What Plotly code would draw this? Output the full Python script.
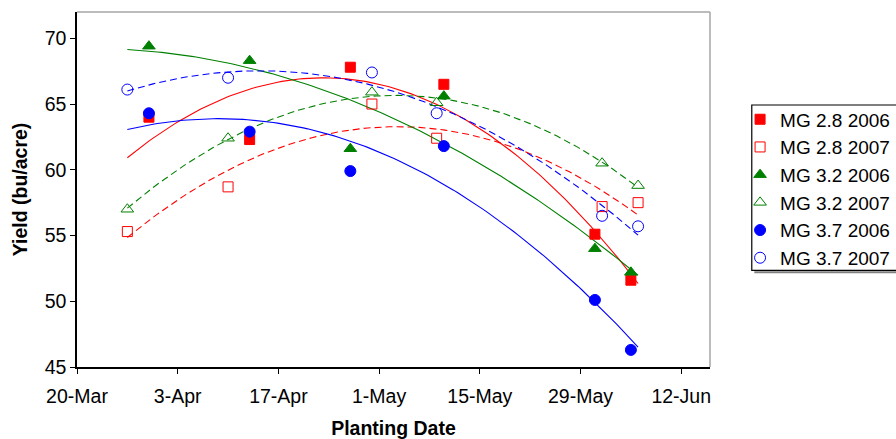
import numpy as np
import pandas as pd
import plotly.graph_objects as go

# ---- data (year is a dummy common year for plotting) ----
dates_2006 = ["2007-03-30", "2007-04-13", "2007-04-27", "2007-05-10", "2007-05-31", "2007-06-05"]
dates_2007 = ["2007-03-27", "2007-04-10", "2007-04-30", "2007-05-09", "2007-06-01", "2007-06-06"]

mg28_2006 = [64.0, 62.3, 67.8, 66.5, 55.1, 51.6]
mg28_2007 = [55.3, 58.7, 65.0, 62.4, 57.2, 57.5]
mg32_2006 = [69.4, 68.3, 61.6, 65.6, 54.0, 52.2]
mg32_2007 = [57.0, 62.4, 65.9, 65.1, 60.5, 58.8]
mg37_2006 = [64.3, 62.9, 59.9, 61.8, 50.1, 46.3]
mg37_2007 = [66.1, 67.0, 67.4, 64.3, 56.5, 55.7]

tick_vals = ["2007-03-20", "2007-04-03", "2007-04-17", "2007-05-01", "2007-05-15", "2007-05-29", "2007-06-12"]
tick_text = ["20-Mar", "3-Apr", "17-Apr", "1-May", "15-May", "29-May", "12-Jun"]

RED, GREEN, BLUE = "#FF0000", "#008000", "#0000FF"

series = [
    ("MG 2.8 2006", dates_2006, mg28_2006, "square", RED, "solid", 10),
    ("MG 2.8 2007", dates_2007, mg28_2007, "square-open", RED, "dash", 10),
    ("MG 3.2 2006", dates_2006, mg32_2006, "triangle-up", GREEN, "solid", 11),
    ("MG 3.2 2007", dates_2007, mg32_2007, "triangle-up-open", GREEN, "dash", 11),
    ("MG 3.7 2006", dates_2006, mg37_2006, "circle", BLUE, "solid", 11),
    ("MG 3.7 2007", dates_2007, mg37_2007, "circle-open", BLUE, "dash", 11),
]

all_dates = pd.to_datetime(dates_2006 + dates_2007)
t0 = pd.Timestamp("2007-03-20")
grid_days = np.linspace((all_dates.min() - t0).days, (all_dates.max() - t0).days, 120)
grid_dates = [t0 + pd.Timedelta(days=float(d)) for d in grid_days]

fig = go.Figure()

# trendlines (2nd order polynomial fits)
for name, dts, vals, sym, col, dash, sz in series:
    d = np.array([(pd.Timestamp(x) - t0).days for x in dts], dtype=float)
    coef = np.polyfit(d, np.array(vals), 2)
    fig.add_trace(go.Scatter(
        x=grid_dates, y=np.polyval(coef, grid_days), mode="lines",
        line=dict(color=col, width=1.1, dash="7px,4px" if dash == "dash" else "solid"),
        showlegend=False, hoverinfo="skip"))

for i, (name, dts, vals, sym, col, dash, sz) in enumerate(series):
    fig.add_trace(go.Scatter(
        x=dts, y=vals, mode="markers", name=name, legendgroup=f"g{i}",
        marker=dict(symbol=sym, color=col, size=sz, line=dict(color=col, width=1))))

fig.update_layout(
    width=896, height=439,
    margin=dict(l=77, r=186, t=12, b=72, autoexpand=False),
    plot_bgcolor="white", paper_bgcolor="white",
    font=dict(family="Liberation Sans, Arial, sans-serif", size=19.5, color="black"),
    showlegend=True,
    legend=dict(x=1.0475, xanchor="left", y=0.751, yanchor="top",
                borderwidth=0, bgcolor="rgba(0,0,0,0)",
                font=dict(size=19), traceorder="grouped", tracegroupgap=0),
    xaxis=dict(range=["2007-03-20", "2007-06-16"], tickvals=tick_vals, ticktext=tick_text,
               showgrid=False, zeroline=False, showline=True, linecolor="black", linewidth=1.5,
               ticks="outside", ticklen=5, tickcolor="black", ticklabelstandoff=6,
               title=dict(text="<b>Planting Date</b>", font=dict(size=19.5), standoff=16)),
    yaxis=dict(range=[45, 72], tickvals=[45, 50, 55, 60, 65, 70],
               showgrid=False, zeroline=False, showline=True, linecolor="black", linewidth=1.5,
               ticks="outside", ticklen=5, tickcolor="black",
               title=dict(text="<b>Yield (bu/acre)</b>", font=dict(size=19.5), standoff=12)),
    shapes=[
        dict(type="line", xref="paper", yref="paper", x0=0, x1=1, y0=1, y1=1,
             line=dict(color="#a6a6a6", width=1.5)),
        dict(type="line", xref="paper", yref="paper", x0=1, x1=1, y0=0, y1=1,
             line=dict(color="#a6a6a6", width=1.5)),
        # legend frame with a light shadow
        dict(type="line", xref="paper", yref="paper", x0=1.07, x1=1.3, y0=0.267, y1=0.267,
             line=dict(color="#808080", width=2)),
        dict(type="rect", xref="paper", yref="paper", x0=1.066, x1=1.3, y0=0.272, y1=0.738,
             line=dict(color="black", width=1.2), fillcolor="rgba(0,0,0,0)"),
    ],
)

fig.write_html("out.html")
